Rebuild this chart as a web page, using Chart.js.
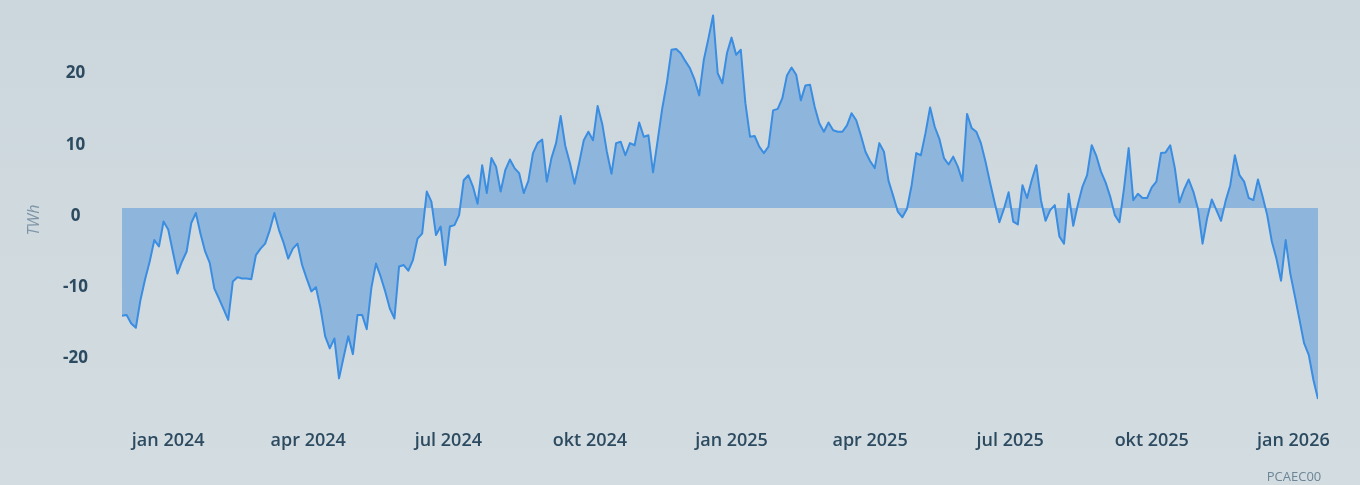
<!DOCTYPE html>
<html>
<head>
<meta charset="utf-8">
<script src="https://cdn.jsdelivr.net/npm/chart.js@4/dist/chart.umd.min.js"></script>
<style>
  html, body { margin: 0; padding: 0; background: #cfd9df; }
  canvas { display: block; }
</style>
</head>
<body>
<canvas id="c" width="1360" height="485"></canvas>
<script>
// ---- data ----
const startDate = '2023-12-02';
const stepDays = 3;
const values = [
  -15.1, -15.0, -16.2, -16.8, -12.9, -10.0, -7.5, -4.5, -5.4, -1.9,
  -3.0, -6.1, -9.2, -7.5, -6.1, -2.1, -0.7, -3.6, -6.1, -7.7,
  -11.3, -12.7, -14.2, -15.7, -10.3, -9.7, -9.9, -9.9, -10.0, -6.6,
  -5.7, -5.0, -3.1, -0.7, -3.1, -4.9, -7.1, -5.7, -5.0, -8.0,
  -9.9, -11.7, -11.1, -14.1, -18.0, -19.7, -18.3, -23.9, -20.9, -18.0,
  -20.5, -15.0, -15.0, -17.0, -11.2, -7.8, -9.6, -11.7, -14.1, -15.5,
  -8.2, -8.0, -8.8, -7.3, -4.3, -3.6, 2.3, 0.9, -3.8, -2.6,
  -8.0, -2.6, -2.4, -1.0, 3.9, 4.6, 3.0, 0.6, 6.0, 2.1,
  7.0, 5.8, 2.3, 5.3, 6.8, 5.6, 4.9, 2.1, 3.8, 7.7,
  9.1, 9.6, 3.7, 7.0, 9.1, 12.9, 8.7, 6.3, 3.4, 6.3,
  9.5, 10.7, 9.5, 14.3, 11.8, 7.9, 4.8, 9.1, 9.3, 7.4,
  9.1, 8.8, 12.0, 10.0, 10.2, 5.0, 9.5, 14.0, 17.6, 22.2,
  22.3, 21.7, 20.6, 19.6, 18.0, 15.8, 20.8, 23.8, 27.0, 18.9,
  17.5, 21.7, 23.9, 21.5, 22.2, 14.7, 10.0, 10.1, 8.6, 7.7,
  8.6, 13.7, 13.9, 15.4, 18.6, 19.7, 18.7, 15.1, 17.2, 17.3,
  14.2, 11.9, 10.7, 12.0, 10.9, 10.7, 10.7, 11.6, 13.3, 12.3,
  10.2, 7.9, 6.6, 5.6, 9.1, 7.9, 3.8, 1.7, -0.5, -1.3,
  -0.1, 3.2, 7.7, 7.4, 10.5, 14.1, 11.4, 9.7, 7.0, 6.1,
  7.2, 5.8, 3.8, 13.2, 11.2, 10.7, 9.1, 6.5, 3.5, 0.7,
  -2.0, -0.1, 2.2, -1.9, -2.3, 3.2, 1.4, 3.9, 6.0, 1.1,
  -1.8, -0.3, 0.4, -4.0, -5.0, 2.0, -2.5, 0.5, 3.0, 4.6,
  8.8, 7.3, 5.1, 3.6, 1.6, -1.0, -2.0, 2.8, 8.4, 1.1,
  2.0, 1.4, 1.4, 2.9, 3.7, 7.7, 7.8, 8.8, 5.6, 0.8,
  2.6, 4.0, 2.3, -0.1, -5.0, -1.4, 1.2, -0.3, -1.8, 1.0,
  3.2, 7.4, 4.6, 3.7, 1.4, 1.1, 4.0, 1.6, -1.0, -4.7,
  -7.1, -10.2, -4.5, -9.2, -12.4, -15.7, -19.0, -20.6, -24.1, -26.8
];
const tickDates = ['2024-01-01', '2024-04-01', '2024-07-01', '2024-10-01', '2025-01-01',
                   '2025-04-01', '2025-07-01', '2025-10-01', '2026-01-01'];
const tickLabels = ['jan 2024', 'apr 2024', 'jul 2024', 'okt 2024', 'jan 2025',
                    'apr 2025', 'jul 2025', 'okt 2025', 'jan 2026'];
const yTickValues = [-20, -10, 0, 10, 20];
const yAxisTitle = 'TWh';
const sourceNote = 'PCAEC00';

// ---- helpers ----
const DAY = 86400000;
const dayOf = d => Math.round((Date.parse(d + 'T00:00:00Z') - Date.parse(startDate + 'T00:00:00Z')) / DAY);
const points = values.map((v, i) => ({ x: i * stepDays, y: v }));

const TEXT = '#2c4a60';

const decor = {
  id: 'decor',
  beforeDraw(chart) {
    const ctx = chart.ctx;
    ctx.save();
    const g = ctx.createLinearGradient(0, 0, 0, chart.height);
    g.addColorStop(0, '#ccd7dd');
    g.addColorStop(1, '#d3dce0');
    ctx.fillStyle = g;
    ctx.fillRect(0, 0, chart.width, chart.height);
    ctx.restore();
  },
  afterDraw(chart) {
    const ctx = chart.ctx;
    ctx.save();
    ctx.translate(34, 220);
    ctx.rotate(-Math.PI / 2);
    ctx.font = 'italic 400 16px "Open Sans"';
    ctx.fillStyle = '#7e95a7';
    ctx.textAlign = 'center';
    ctx.textBaseline = 'middle';
    ctx.fillText(yAxisTitle, 0, 0);
    ctx.restore();
    ctx.save();
    ctx.font = '400 13px "Open Sans"';
    ctx.fillStyle = '#6d8596';
    ctx.textAlign = 'center';
    ctx.textBaseline = 'middle';
    ctx.fillText(sourceNote, 1294, 477);
    ctx.restore();
  }
};

new Chart(document.getElementById('c'), {
  type: 'line',
  data: {
    datasets: [{
      data: points,
      borderColor: '#3a8de0',
      borderWidth: 2,
      backgroundColor: '#8eb6dd',
      fill: 'origin',
      pointRadius: 0,
      tension: 0,
      borderJoinStyle: 'round'
    }]
  },
  options: {
    responsive: false,
    animation: false,
    devicePixelRatio: 1,
    layout: { padding: { left: 0, right: 42, top: 8.4, bottom: 0 } },
    plugins: { legend: { display: false }, tooltip: { enabled: false } },
    scales: {
      x: {
        type: 'linear',
        min: 0,
        max: (values.length - 1) * stepDays,
        grid: { display: false, drawTicks: false },
        border: { display: false },
        afterBuildTicks: s => { s.ticks = tickDates.map(d => ({ value: dayOf(d) })); },
        afterFit: s => { s.height = 77.4; s.paddingLeft = 0; s.paddingRight = 0; },
        ticks: {
          autoSkip: false,
          maxRotation: 0,
          padding: 22,
          color: TEXT,
          font: { family: '"Open Sans"', size: 18, weight: '600' },
          callback: (v, i) => tickLabels[i]
        }
      },
      y: {
        min: -28,
        max: 28,
        grid: { display: false, drawTicks: false },
        border: { display: false },
        afterBuildTicks: s => { s.ticks = yTickValues.map(v => ({ value: v })); },
        afterFit: s => { s.width = 122; s.paddingTop = 0; s.paddingBottom = 0; },
        ticks: {
          crossAlign: 'center',
          padding: 34,
          labelOffset: 8,
          color: TEXT,
          font: { family: '"Open Sans"', size: 17, weight: '700' },
          callback: v => String(v)
        }
      }
    }
  },
  plugins: [decor]
});
</script>
</body>
</html>
